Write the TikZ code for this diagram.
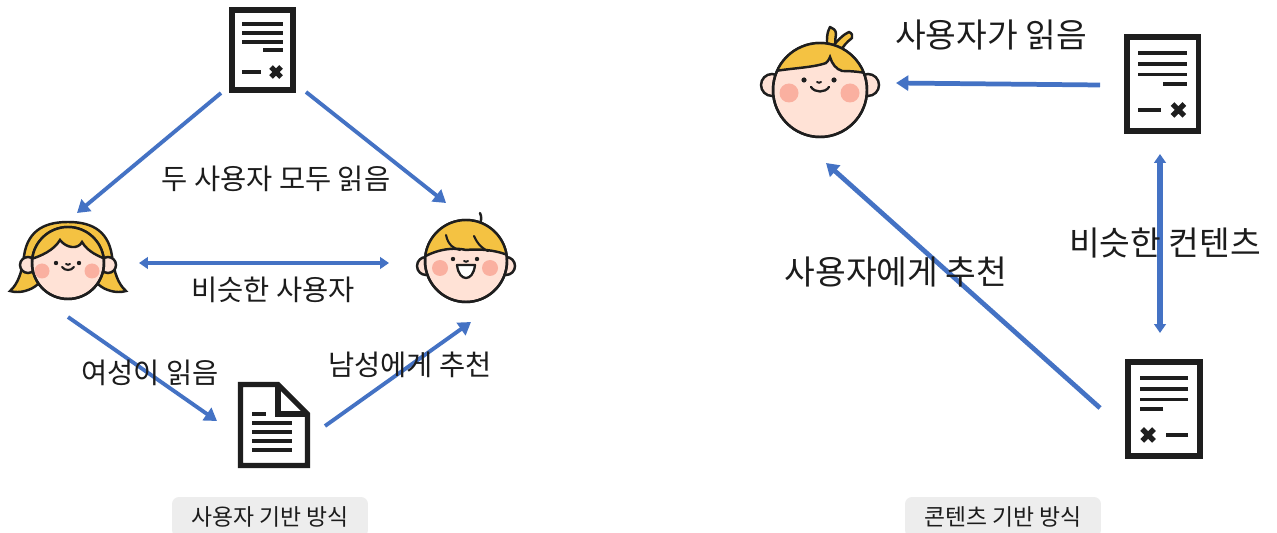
\documentclass[tikz,border=0pt]{standalone}
\usepackage{fontspec}
\newfontfamily\kr{Noto Sans CJK KR}
\usetikzlibrary{arrows.meta}
\definecolor{arrowblue}{RGB}{68,114,196}
\definecolor{hairy}{RGB}{244,194,66}
\definecolor{skin}{RGB}{255,226,214}
\definecolor{cheek}{RGB}{250,176,160}
\definecolor{ink}{RGB}{30,30,30}
\definecolor{capgray}{RGB}{237,237,237}
\definecolor{txt}{RGB}{28,28,28}
\tikzset{
  arr/.style={draw=arrowblue, line width=2.2pt, -{Triangle[length=7pt,width=8.5pt]}},
  darr/.style={draw=arrowblue, line width=2.2pt, {Triangle[length=5pt,width=6.5pt]}-{Triangle[length=5pt,width=6.5pt]}},
  thick arrow/.style={line width=2.7pt},
  lbl/.style={text=txt, font=\kr\fontsize{16.2}{19}\selectfont, inner sep=0pt},
  lblbig/.style={text=txt, font=\kr\fontsize{19}{22}\selectfont, inner sep=0pt},
  captionbox/.style={fill=capgray, rounded corners=4pt, text=txt, font=\kr\fontsize{13}{15}\selectfont,
              minimum width=3.92cm, minimum height=0.8cm, inner sep=0pt},
  face/.style={fill=skin, draw=ink, line width=1.4pt},
  hairfill/.style={fill=hairy, draw=ink, line width=1.4pt},
  % document with a signature line and a cross
  docA/.pic={
    \fill[white] (-30.5,-40) rectangle (30.5,40);
    \draw[ink, line width=3.4pt] (-30.5,-40) rectangle (30.5,40);
    \foreach \yy in {-26,-17,-8} \draw[ink, line width=2.2pt] (-20.5,\yy) -- (20.5,\yy);
    \draw[ink, line width=2.2pt] (0.5,0) -- (20.5,0);
    \draw[ink, line width=2.2pt] (-20.5,22) -- (-1.5,22);
    \draw[ink, line width=3pt] (8.5,17) -- (18.5,27) (8.5,27) -- (18.5,17);
  },
  % document with a folded corner
  docF/.pic={
    \draw[ink, line width=3pt, line join=miter, fill=white]
      (-33.5,-40.5) -- (4,-40.5) -- (33.5,-11) -- (33.5,40.5) -- (-33.5,40.5) -- cycle;
    \draw[ink, line width=3pt, line join=miter] (4,-40.5) -- (4,-11) -- (33.5,-11);
    \draw[ink, line width=2.2pt] (-22,-11) -- (-8,-11);
    \foreach \yy in {-2,7,16,25} \draw[ink, line width=2.2pt] (-22,\yy) -- (18,\yy);
  },
  % girl with bob hair
  girl/.pic={
    \filldraw[hairfill] (-58,29) .. controls (-50,22) and (-46,10) .. (-44,-6)
      .. controls (-40,-34) and (-20,-40) .. (0,-40) .. controls (20,-40) and (40,-34) .. (44,-6)
      .. controls (46,10) and (50,22) .. (58,29) .. controls (48,32) and (36,28) .. (30,22)
      -- (-30,22) .. controls (-36,28) and (-48,32) .. (-58,29) -- cycle;
    \filldraw[face] (-40,3) circle[radius=8] (40,3) circle[radius=8];
    \filldraw[face] (0,1) circle[radius=36];
    \begin{scope}
      \clip (0,1) circle[radius=36];
      \filldraw[hairfill] (-40,-2) .. controls (-26,-6) and (-14,-12) .. (-8,-22)
        .. controls (-2,-14) and (10,-12) .. (14,-20) .. controls (20,-10) and (30,-6) .. (40,-2)
        -- (40,-50) -- (-40,-50) -- cycle;
    \end{scope}
    \draw[ink, line width=1.4pt] (0,1) circle[radius=36];
    \fill[cheek] (-26,9) circle[radius=7.5] (24,9) circle[radius=7.5];
    \fill[ink] (-12,1) circle[radius=2.2] (11,1) circle[radius=2.2];
    \draw[ink, line width=1.1pt, line cap=round] (-2,2) .. controls (-1,3) and (1,3) .. (2,2);
    \draw[ink, line width=1.2pt, line cap=round] (-6,5) .. controls (-3,9) and (3,9) .. (6,5);
  },
  % laughing boy
  boyA/.pic={
    \draw[ink, line width=1.4pt, line cap=round] (14,-36) .. controls (15,-40) and (16,-44) .. (14,-48);
    \filldraw[face] (-40,5) circle[radius=9] (40,5) circle[radius=9];
    \filldraw[face] (0,0) circle[radius=41];
    \begin{scope}
      \clip (0,0) circle[radius=41];
      \filldraw[hairfill] (-44,-3) .. controls (-25,-14) and (-8,-13) .. (0,-11)
        .. controls (10,-12) and (28,-12) .. (44,-5) -- (44,-50) -- (-44,-50) -- cycle;
    \end{scope}
    \draw[ink, line width=1.4pt] (0,0) circle[radius=41];
    \draw[ink, line width=1.2pt, line cap=round] (-20,-26) .. controls (-18,-16) and (-12,-12) .. (-6,-11);
    \draw[ink, line width=1.2pt, line cap=round] (8,-25) .. controls (12,-16) and (17,-12) .. (22,-10);
    \fill[cheek] (-26,7) circle[radius=8] (24,7) circle[radius=8];
    \fill[ink] (-13,-2) circle[radius=2.2] (11,-2) circle[radius=2.2];
    \draw[ink, line width=1.1pt, line cap=round] (-2,0) .. controls (-1,1) and (1,1) .. (2,0);
    \filldraw[fill=white, draw=ink, line width=1.3pt, line join=round]
      (-9,4) -- (9,4) .. controls (8,13) and (4,17) .. (0,17) .. controls (-4,17) and (-8,13) .. (-9,4) -- cycle;
  },
  % smiling boy
  boyB/.pic={
    \filldraw[hairfill, line join=round] (8,-38) .. controls (6,-50) and (7,-58) .. (10,-63)
      .. controls (13,-62) and (16,-60) .. (16,-56) .. controls (15,-50) and (15,-44) .. (16,-38) -- cycle;
    \filldraw[hairfill, line join=round] (13,-44) .. controls (18,-50) and (24,-56) .. (29,-58)
      .. controls (32,-57) and (33,-54) .. (32,-52) .. controls (27,-48) and (23,-44) .. (21,-39) -- cycle;
    \filldraw[face] (-48,-5) circle[radius=11] (48,-5) circle[radius=11];
    \filldraw[face] (0,0) circle[radius=47];
    \begin{scope}
      \clip (0,0) circle[radius=47];
      \filldraw[hairfill] (-50,-18) .. controls (-30,-22) and (-8,-22) .. (6,-27)
        .. controls (9,-30) and (9,-31) .. (10,-33) .. controls (12,-26) and (16,-21) .. (22,-19)
        .. controls (32,-19) and (42,-18) .. (50,-16) -- (50,-60) -- (-50,-60) -- cycle;
    \end{scope}
    \draw[ink, line width=1.4pt] (0,0) circle[radius=47];
    \fill[cheek] (-31,3) circle[radius=9.5] (30,3) circle[radius=9.5];
    \fill[ink] (-16,-10) circle[radius=2.6] (14,-10) circle[radius=2.6];
    \draw[ink, line width=1.1pt, line cap=round] (-3,-8) .. controls (-2,-7) and (0,-7) .. (1,-8);
    \draw[ink, line width=1.3pt, line cap=round] (-9,-3) .. controls (-5,3) and (5,3) .. (9,-3);
  }
}
\begin{document}
\begin{tikzpicture}[x=0.02cm, y=-0.02cm]
\useasboundingbox (0,0) rectangle (1277,533);
\fill[white] (0,0) rectangle (1277,533);

% ---------- user based ----------
\coordinate (docTop) at (262.5,50);
\coordinate (girlC) at (68,262);
\coordinate (boyC) at (466,261);
\coordinate (docBot) at (274,425);
\pic at (docTop) {docA};
\pic at (girlC) {girl};
\pic at (boyC) {boyA};
\pic at (docBot) {docF};

\coordinate (a1s) at (221,93);  \coordinate (a1e) at (77,213);
\coordinate (a2s) at (306,92);  \coordinate (a2e) at (446,203);
\coordinate (a3s) at (139,263); \coordinate (a3e) at (389,263);
\coordinate (a4s) at (68,317);  \coordinate (a4e) at (217,421);
\coordinate (a5s) at (325,426); \coordinate (a5e) at (471,322);
\draw[arr] (a1s) -- (a1e);
\draw[arr] (a2s) -- (a2e);
\draw[darr] (a3s) -- (a3e);
\draw[arr] (a4s) -- (a4e);
\draw[arr] (a5s) -- (a5e);

\node[lbl] (l1) at (276,179) {두 사용자 모두 읽음};
\node[lbl] (l2) at (273,290) {비슷한 사용자};
\node[lbl] (l3) at (150,373) {여성이 읽음};
\node[lbl] (l4) at (410,365) {남성에게 추천};
\node[captionbox] (c1) at (270,517) {사용자 기반 방식};

% ---------- content based ----------
\coordinate (boy2C) at (820,90);
\coordinate (docTR) at (1162.5,84);
\coordinate (docBR) at (1164,409);
\pic at (boy2C) {boyB};
\pic[scale=1.18] at (docTR) {docA};
\pic[xscale=-1.18, yscale=1.18] at (docBR) {docA};

\coordinate (b1s) at (1100,85);  \coordinate (b1e) at (896,83);
\coordinate (b2s) at (1160,154); \coordinate (b2e) at (1160,333);
\coordinate (b3s) at (1100,408); \coordinate (b3e) at (826,163);
\draw[arr, thick arrow] (b1s) -- (b1e);
\draw[darr, line width=3.2pt] (b2s) -- (b2e);
\draw[arr, thick arrow] (b3s) -- (b3e);

\node[lblbig] (l5) at (991,35) {사용자가 읽음};
\node[lblbig] (l6) at (1165,243) {비슷한 컨텐츠};
\node[lblbig] (l7) at (896,272) {사용자에게 추천};
\node[captionbox] (c2) at (1003,517) {콘텐츠 기반 방식};
\end{tikzpicture}
\end{document}
